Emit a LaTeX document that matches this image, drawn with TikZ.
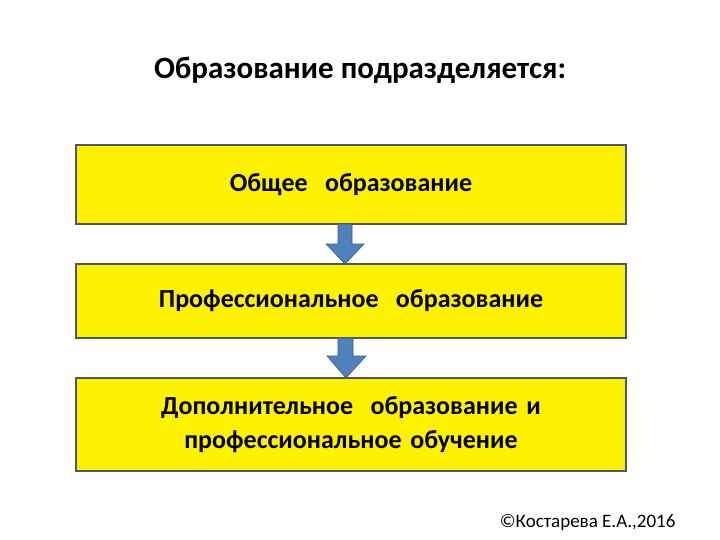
\documentclass[tikz,border=0pt]{standalone}
\usepackage{fontspec}
\setmainfont{Carlito}
\definecolor{arr}{HTML}{4F81BD}
\definecolor{arrb}{HTML}{385D8A}
\definecolor{bord}{HTML}{4A5866}
\begin{document}
\begin{tikzpicture}[x=1pt,y=-1pt,
  box/.style={draw=bord,line width=1.5pt,fill=yellow,text width=550pt,align=center,font=\bfseries\fontsize{26}{34}\selectfont,inner sep=0pt},
  barrow/.style={fill=arr,draw=arrb,line width=0.6pt}]
\useasboundingbox[fill=white] (0,0) rectangle (720,540);
\node[font=\bfseries\fontsize{31}{36}\selectfont] (t) at (360,70) {Образование подразделяется:};
\node[box,minimum height=79pt] (b1) at (351,184.5) {Общее~ образование};
\node[box,minimum height=74pt] (b2) at (351,301) {Профессиональное~ образование};
\node[box,minimum height=93pt] (b3) at (351,424.5) {Дополнительное~ образование и\\профессиональное обучение};
\draw[barrow] (338,224) -- (338,244) -- (326,244) -- (345,264) -- (364,244) -- (352,244) -- (352,224) -- cycle;
\draw[barrow] (338,338) -- (338,356) -- (327,356) -- (346,378) -- (366,356) -- (353,356) -- (353,338) -- cycle;
\node[anchor=east,font=\fontsize{19}{22}\selectfont] (c) at (679,523) {©Костарева Е.А.,2016};
\end{tikzpicture}
\end{document}
